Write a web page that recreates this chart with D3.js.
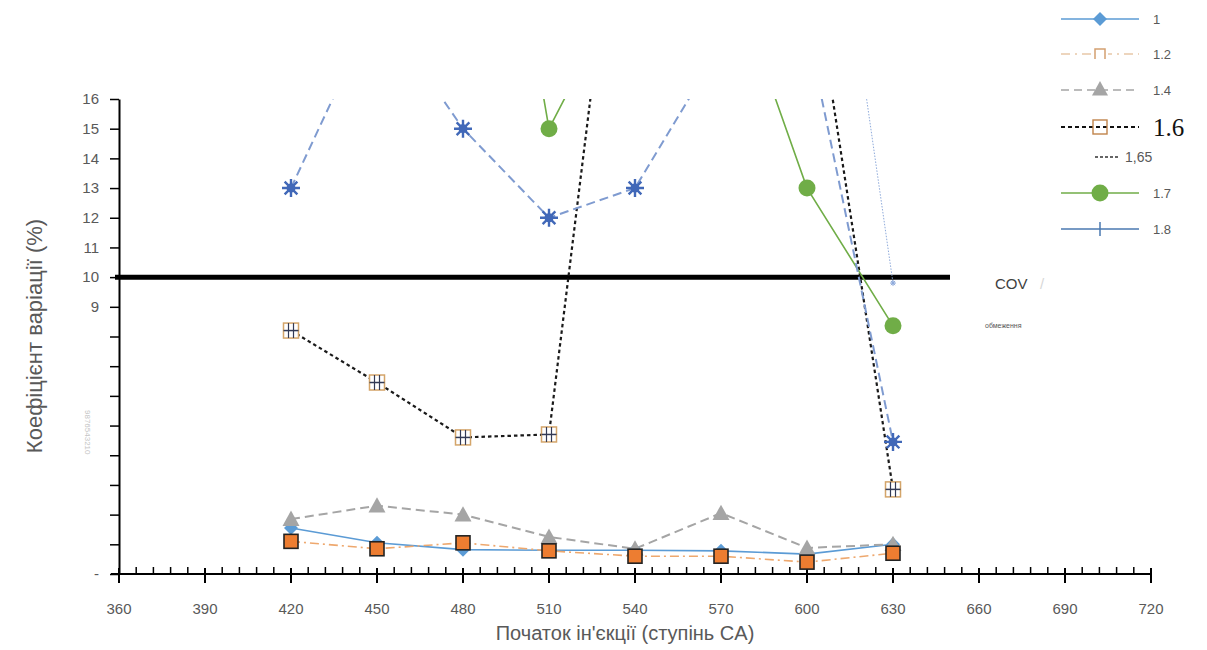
<!DOCTYPE html>
<html><head><meta charset="utf-8">
<script src="https://cdn.jsdelivr.net/npm/d3@7/dist/d3.min.js"></script>
<style>body{margin:0;background:#fff}svg{display:block}</style>
</head><body>
<svg id="c" width="1207" height="650"></svg>
<script>
// ---- data ----
const xValues = [420, 450, 480, 510, 540, 570, 600, 630];
const s1   = [1.55, 1.05, 0.82, 0.8, 0.8, 0.78, 0.67, 1.0];
const s12  = [1.1, 0.85, 1.05, 0.78, 0.6, 0.6, 0.4, 0.7];
const s14  = [1.85, 2.3, 2.0, 1.25, 0.85, 2.05, 0.88, 1.0];
const s16  = [8.2, 6.45, 4.6, 4.7, 28.2, null, 21.6, 2.85];
const s165 = [null, null, null, null, null, null, 30.0, 9.8];
const s17  = [null, null, 31.8, 15.0, 20.6, 21.2, 13.0, 8.36];
const s18  = [13.0, 19.2, 15.0, 12.0, 13.0, 17.8, 18.4, 4.45];
const seriesNames = ["1", "1.2", "1.4", "1.6", "1,65", "1.7", "1.8"];
const xTicks = [360, 390, 420, 450, 480, 510, 540, 570, 600, 630, 660, 690, 720];
const yTicks = [0,1,2,3,4,5,6,7,8,9,10,11,12,13,14,15,16];
const covLimit = 10;
const xTitle = "Початок ін'єкції (ступінь CA)";
const yTitle = "Коефіцієнт варіації (%)";

const svg = d3.select("#c");
const x = d3.scaleLinear().domain([360, 720]).range([119, 1151]);
const y = d3.scaleLinear().domain([0, 16]).range([574, 99]);
const FONT = "Liberation Sans, Arial, sans-serif";

svg.append("defs").append("clipPath").attr("id","clip")
  .append("rect").attr("x", x(360)).attr("y", y(16)).attr("width", x(720)-x(360)).attr("height", y(0)-y(16)+10);

// ---- y axis ----
const ya = svg.append("g").attr("transform", `translate(${x(360)},0)`)
  .call(d3.axisLeft(y).tickValues(yTicks).tickSize(9).tickSizeOuter(0)
    .tickFormat(d => d >= 9 ? d : (d === 0 ? "-" : "")));
ya.select(".domain").attr("stroke","#000").attr("stroke-width",2);
ya.selectAll(".tick line").attr("stroke","#000").attr("stroke-width",1.5);
ya.selectAll(".tick text").attr("font-family",FONT).attr("font-size",15).attr("fill","#595959").attr("x",-20);

// faint rotated text
svg.append("text").attr("transform","translate(85,410) rotate(90)")
  .attr("font-family",FONT).attr("font-size",8).attr("fill","#c4c4c4").text("9876543210");

// ---- x axis ----
const xa = svg.append("g");
xa.append("line").attr("x1", 111).attr("x2", x(720)).attr("y1", y(0)).attr("y2", y(0))
  .attr("stroke","#000").attr("stroke-width",2);
const minor = d3.range(360, 721, 6).filter(v => v % 30 !== 0);
xa.selectAll(".mn").data(minor).join("line")
  .attr("x1", d=>x(d)).attr("x2", d=>x(d)).attr("y1", y(0)-7).attr("y2", y(0))
  .attr("stroke","#000").attr("stroke-width",1.5);
xa.selectAll(".mj").data(xTicks).join("line")
  .attr("x1", d=>x(d)).attr("x2", d=>x(d)).attr("y1", y(0)-6).attr("y2", y(0)+9)
  .attr("stroke","#000").attr("stroke-width",2);
xa.selectAll(".lb").data(xTicks).join("text")
  .attr("x", d=>x(d)).attr("y", 614).attr("text-anchor","middle")
  .attr("font-family",FONT).attr("font-size",15).attr("fill","#595959").text(d=>d);

// titles
svg.append("text").attr("x", 625).attr("y", 640).attr("text-anchor","middle")
  .attr("font-family",FONT).attr("font-size",20).attr("fill","#595959").text(xTitle);
svg.append("text").attr("transform","translate(42,336) rotate(-90)").attr("text-anchor","middle")
  .attr("font-family",FONT).attr("font-size",22).attr("fill","#595959").text(yTitle);

// ---- COV limit line ----
svg.append("line").attr("x1", 115).attr("x2", 950).attr("y1", y(covLimit)).attr("y2", y(covLimit))
  .attr("stroke","#000").attr("stroke-width",5);
svg.append("text").attr("x", 995).attr("y", 289).attr("font-family",FONT).attr("font-size",15)
  .attr("fill","#404040").text("COV");
svg.append("text").attr("x", 1040).attr("y", 289).attr("font-family",FONT).attr("font-size",15)
  .attr("fill","#d8d8d8").text("/");
svg.append("text").attr("x", 985).attr("y", 328).attr("font-family",FONT).attr("font-size",7)
  .attr("fill","#555").text("обмеження");

// ---- series ----
const plot = svg.append("g").attr("clip-path","url(#clip)");
const lineGen = vals => d3.line().defined(d => d[1] != null)
  .x(d => x(d[0])).y(d => y(d[1]))(xValues.map((v,i)=>[v, vals[i]]));

const styles = [
  {vals:s1,  stroke:"#5b9bd5", w:1.6, dash:null},
  {vals:s12, stroke:"#eea86e", w:1.6, dash:"9,4,2,4"},
  {vals:s14, stroke:"#a5a5a5", w:2,   dash:"9,5"},
  {vals:s16, stroke:"#1a1a1a", w:2.2, dash:"3.5,3"},
  {vals:s165,stroke:"#8eaadb", w:1,   dash:"1.5,1.5"},
  {vals:s17, stroke:"#70ad47", w:1.6, dash:null},
  {vals:s18, stroke:"#7f9bd0", w:2,   dash:"9,5"}
];
styles.forEach(s => {
  plot.append("path").attr("d", lineGen(s.vals)).attr("fill","none")
    .attr("stroke", s.stroke).attr("stroke-width", s.w).attr("stroke-dasharray", s.dash);
});

const pts = vals => xValues.map((v,i)=>({x:v, y:vals[i]})).filter(d => d.y != null);
function diamond(g, cx, cy, r, fill){
  g.append("path").attr("d",`M${cx},${cy-r}L${cx+r},${cy}L${cx},${cy+r}L${cx-r},${cy}Z`).attr("fill",fill);
}
function triangle(g, cx, cy, r, fill){
  g.append("path").attr("d",`M${cx},${cy-r}L${cx+r},${cy+r*0.8}L${cx-r},${cy+r*0.8}Z`).attr("fill",fill);
}
function gridSquare(g, cx, cy, s){
  g.append("rect").attr("x",cx-s/2).attr("y",cy-s/2).attr("width",s).attr("height",s)
    .attr("fill","#fff").attr("stroke","#d4a56a").attr("stroke-width",1.5);
  [-1,1].forEach(k=>{
    g.append("line").attr("x1",cx+k*s/6).attr("x2",cx+k*s/6).attr("y1",cy-s/2).attr("y2",cy+s/2).attr("stroke","#333a55").attr("stroke-width",1.2);
  });
  g.append("line").attr("x1",cx-s/2).attr("x2",cx+s/2).attr("y1",cy).attr("y2",cy).attr("stroke","#333a55").attr("stroke-width",1.5);
}
function star(g, cx, cy, r, col, w){
  const p = [];
  for (let a=0; a<4; a++){
    const t = a*Math.PI/4;
    p.push(`M${cx-r*Math.cos(t)},${cy-r*Math.sin(t)}L${cx+r*Math.cos(t)},${cy+r*Math.sin(t)}`);
  }
  g.append("path").attr("d",p.join("")).attr("stroke",col).attr("stroke-width",w).attr("fill","none");
  g.append("circle").attr("cx",cx).attr("cy",cy).attr("r",r*0.5).attr("fill",col);
}

pts(s1).forEach(d => diamond(plot, x(d.x), y(d.y), 7, "#5b9bd5"));
pts(s14).forEach(d => triangle(plot, x(d.x), y(d.y), 8.5, "#a5a5a5"));
pts(s12).forEach(d => plot.append("rect").attr("x",x(d.x)-7).attr("y",y(d.y)-7).attr("width",14).attr("height",14)
  .attr("fill","#ed7d31").attr("stroke","#222").attr("stroke-width",1.6));
pts(s16).forEach(d => gridSquare(plot, x(d.x), y(d.y), 15));
pts(s18).forEach(d => star(plot, x(d.x), y(d.y), 9, "#4168b8", 2.4));
pts(s165).forEach(d => star(plot, x(d.x), y(d.y), 3, "#8eaadb", 1));
pts(s17).forEach(d => plot.append("circle").attr("cx",x(d.x)).attr("cy",y(d.y)).attr("r",8.5).attr("fill","#70ad47"));

// ---- legend ----
const lg = svg.append("g");
const lx1 = 1061, lx2 = 1139, lmid = 1100, tx = 1153;
const rows = [19, 54, 90, 127, 157, 193, 229];
// 1
lg.append("line").attr("x1",lx1).attr("x2",lx2).attr("y1",rows[0]).attr("y2",rows[0]).attr("stroke","#5b9bd5").attr("stroke-width",1.5);
diamond(lg, lmid, rows[0], 7, "#5b9bd5");
// 1.2
lg.append("line").attr("x1",lx1).attr("x2",lx2).attr("y1",rows[1]).attr("y2",rows[1]).attr("stroke","#e8c8a8").attr("stroke-width",1.5).attr("stroke-dasharray","9,5,2,5");
lg.append("rect").attr("x",lmid-8).attr("y",rows[1]-6).attr("width",16).attr("height",12).attr("fill","#fff");
lg.append("path").attr("d",`M${lmid-5},${rows[1]+5}V${rows[1]-5}H${lmid+5}V${rows[1]+5}`).attr("fill","none").attr("stroke","#d4a070").attr("stroke-width",1.5);
// 1.4
lg.append("line").attr("x1",lx1).attr("x2",lx2).attr("y1",rows[2]).attr("y2",rows[2]).attr("stroke","#a5a5a5").attr("stroke-width",1.5).attr("stroke-dasharray","8,5");
triangle(lg, lmid, rows[2]-1, 8, "#a5a5a5");
// 1.6
lg.append("line").attr("x1",lx1).attr("x2",lx2).attr("y1",rows[3]).attr("y2",rows[3]).attr("stroke","#111").attr("stroke-width",2).attr("stroke-dasharray","4,3");
lg.append("rect").attr("x",lmid-7).attr("y",rows[3]-7).attr("width",14).attr("height",14).attr("fill","none").attr("stroke","#c0834a").attr("stroke-width",1.4);
// 1.65
lg.append("line").attr("x1",1095).attr("x2",1118).attr("y1",rows[4]).attr("y2",rows[4]).attr("stroke","#333").attr("stroke-width",1.5).attr("stroke-dasharray","3,2");
// 1.7
lg.append("line").attr("x1",lx1).attr("x2",lx2).attr("y1",rows[5]).attr("y2",rows[5]).attr("stroke","#70ad47").attr("stroke-width",1.5);
lg.append("circle").attr("cx",lmid).attr("cy",rows[5]).attr("r",8.5).attr("fill","#70ad47");
// 1.8
lg.append("line").attr("x1",lx1).attr("x2",lx2).attr("y1",rows[6]).attr("y2",rows[6]).attr("stroke","#4a78b0").attr("stroke-width",1.5);
lg.append("line").attr("x1",lmid).attr("x2",lmid).attr("y1",rows[6]-7).attr("y2",rows[6]+7).attr("stroke","#4a78b0").attr("stroke-width",1.5);

seriesNames.forEach((n,i) => {
  const t = lg.append("text").attr("y", rows[i]+5).text(n);
  if (n === "1.6") {
    t.attr("x", tx).attr("y", rows[i]+9).attr("font-family","Liberation Serif, Times New Roman, serif").attr("font-size",25).attr("fill","#111");
  } else if (n === "1,65") {
    t.attr("x", 1125).attr("font-family",FONT).attr("font-size",14).attr("fill","#595959");
  } else {
    t.attr("x", tx).attr("font-family",FONT).attr("font-size",13).attr("fill","#595959");
  }
});
</script>
</body></html>
